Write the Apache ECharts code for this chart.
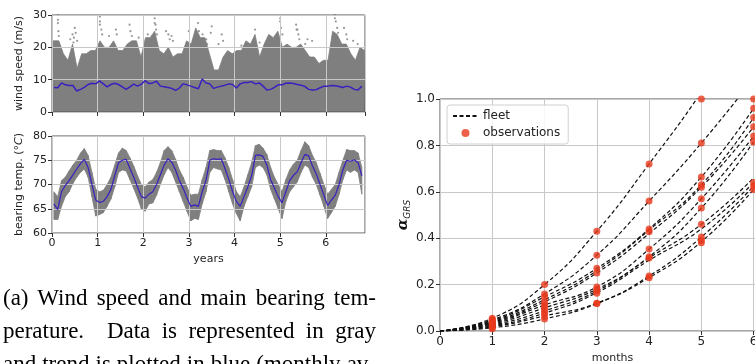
<!DOCTYPE html>
<html>
<head>
<meta charset="utf-8">
<script src="https://cdn.jsdelivr.net/npm/echarts@6/dist/echarts.min.js"></script>
<style>
  html, body { margin: 0; padding: 0; background: #fff; }
  #wrap { position: relative; width: 755px; height: 364px; overflow: hidden; }
  #chart { position: absolute; left: 0; top: 0; width: 755px; height: 364px; }
  .cap {
    position: absolute; left: 3px; width: 373px;
    font-family: "Liberation Serif", "Times New Roman", serif;
    font-size: 23px; color: #000; white-space: nowrap;
    text-align: justify; text-align-last: justify; line-height: 24px;
  }
</style>
</head>
<body>
<div id="wrap">
  <div id="chart"></div>
  <div class="cap" style="top:286px">(a) Wind speed and main bearing tem-</div>
  <div class="cap" style="top:319px">perature.&nbsp; Data is represented in gray</div>
  <div class="cap" style="top:352px">and trend is plotted in blue (monthly av-</div>
</div>
<script>
// ---- wind speed (top left) ----
// upper edge of the gray point cloud, one value every 0.1 year (t = 0.05, 0.15, ...)
const windEnvelope = [
  22, 22, 18, 16, 21, 13.5, 18, 18, 19, 19,
  22, 20, 20, 22, 19, 19, 21, 22, 22, 17,
  23, 23, 25, 19, 18, 20, 17, 18, 18, 22,
  21, 26, 23, 23, 18, 13, 13, 17, 19, 18,
  19, 19, 22, 21, 24, 17, 21, 24, 23, 25,
  20, 21, 20, 20, 21, 19, 17, 17, 15, 16,
  16, 25, 24, 21, 21, 18, 16, 20, 19
];
// isolated points above the cloud [year, m/s]
const windOutliers = [
  [0.13, 30], [0.13, 28.5], [0.13, 27.5], [0.14, 25], [0.15, 23.5], [0.4, 22.5],
  [0.45, 24], [0.5, 26], [0.48, 23], [0.52, 24.5], [0.47, 21.5], [0.55, 22],
  [1.05, 29.5], [1.05, 28], [1.05, 27], [1.08, 25.5], [1.1, 24], [1.25, 23.5],
  [1.4, 25.5], [1.42, 24], [1.7, 27], [1.72, 25], [1.75, 23.5], [1.9, 23],
  [2.1, 24], [2.25, 29], [2.25, 27.5], [2.27, 27], [2.28, 25.5], [2.3, 24],
  [2.5, 25], [2.55, 24], [2.58, 22.5], [2.65, 22], [2.62, 23.5], [3.0, 25],
  [3.2, 27.5], [3.22, 25], [3.3, 24], [3.4, 21], [3.38, 22.5], [3.5, 26.5],
  [3.48, 24.5], [3.65, 21], [3.72, 24], [3.75, 22], [4.15, 20.5], [4.45, 25.5],
  [4.55, 21.5], [4.9, 23.5], [5.0, 28], [5.0, 29], [5.02, 26], [5.05, 24],
  [5.35, 27], [5.36, 25.5], [5.38, 25.5], [5.4, 24], [5.42, 22.5], [5.55, 21],
  [5.6, 22.5], [5.7, 22], [6.2, 30], [6.2, 29], [6.22, 28], [6.25, 26],
  [6.27, 24.5], [6.4, 26], [6.45, 24], [6.47, 22.5], [6.6, 22], [6.7, 21]
];
// monthly average wind speed (month index i -> year (i+0.5)/12)
const windTrend = [
  7.6, 7.5, 9.0, 8.4, 8.2, 8.2, 6.5, 7.0, 7.6, 8.5, 8.9, 8.7,
  9.6, 8.7, 7.8, 8.5, 8.9, 8.5, 7.8, 7.0, 7.8, 8.6, 8.0, 8.6,
  9.7, 8.8, 9.0, 9.5, 8.0, 7.8, 7.6, 7.3, 6.7, 7.4, 8.7, 8.4,
  8.0, 7.6, 7.2, 10.2, 9.0, 8.7, 7.3, 7.7, 8.0, 8.3, 8.7, 8.5,
  7.4, 8.7, 9.1, 9.1, 9.4, 8.7, 9.0, 8.0, 6.8, 7.0, 7.6, 8.4,
  8.4, 8.9, 9.0, 8.8, 8.5, 8.3, 7.9, 7.0, 6.8, 6.9, 7.5, 8.0,
  8.0, 8.2, 8.1, 7.9, 7.6, 8.0, 7.7, 7.0, 6.8, 8.0
];

// ---- bearing temperature (bottom left), monthly ----
const tempTrend = [
  66.0, 64.8, 68.5, 69.8, 70.8, 72.0, 73.2, 74.3, 75.2, 73.5, 70.0, 66.8,
  66.3, 66.5, 67.5, 69.0, 71.8, 74.5, 75.0, 75.2, 73.3, 71.5, 69.5, 67.5,
  67.2, 68.0, 68.5, 70.0, 72.0, 74.0, 75.3, 74.6, 73.0, 70.8, 69.2, 67.2,
  65.5, 65.8, 65.5, 68.5, 70.8, 75.0, 75.3, 75.2, 75.3, 73.3, 71.0, 68.5,
  66.5, 65.5, 67.5, 69.5, 71.8, 76.0, 76.1, 75.8, 74.0, 71.0, 69.3, 67.5,
  66.2, 68.5, 70.8, 71.9, 72.6, 74.5, 76.2, 75.9, 73.8, 72.2, 70.0, 67.8,
  65.7, 66.8, 67.8, 70.0, 73.0, 75.0, 74.8, 75.1, 74.5, 71.8
];
const tempUpper = [
  68.5, 67.5, 70.8, 71.5, 72.8, 74.0, 75.0, 76.5, 77.4, 76.0, 72.5, 69.0,
  68.5, 68.8, 70.0, 71.5, 74.0, 76.5, 77.5, 77.0, 75.5, 73.8, 71.8, 70.0,
  69.5, 70.5, 71.0, 72.5, 74.5, 77.0, 77.8, 77.0, 75.2, 73.0, 71.5, 69.5,
  67.8, 68.0, 68.0, 71.0, 73.5, 77.0, 77.2, 77.0, 77.0, 75.5, 73.5, 71.0,
  68.5, 67.5, 69.5, 72.0, 74.5, 78.0, 78.3, 77.5, 76.2, 73.5, 71.5, 70.0,
  68.5, 71.0, 73.0, 74.2, 75.0, 77.0, 78.8, 78.0, 76.0, 74.5, 72.3, 70.0,
  68.0, 69.0, 70.0, 72.5, 75.0, 77.2, 77.0, 77.0, 76.5, 73.5
];
const tempLower = [
  62.8, 62.8, 65.5, 67.5, 68.5, 70.2, 71.5, 72.5, 73.2, 71.5, 67.5, 63.5,
  63.8, 64.2, 65.5, 67.0, 69.5, 72.5, 73.0, 72.8, 71.0, 69.2, 67.2, 65.0,
  64.5, 66.0, 66.2, 67.8, 70.0, 72.0, 73.5, 72.5, 70.5, 68.5, 66.5, 64.5,
  62.5, 63.0, 62.8, 66.0, 68.5, 72.5, 73.5, 73.2, 73.0, 71.0, 68.5, 66.0,
  64.0, 62.5, 65.5, 67.5, 69.5, 73.5, 74.0, 73.5, 72.0, 69.0, 67.0, 65.0,
  63.0, 66.5, 68.5, 69.5, 70.5, 72.5, 74.0, 73.5, 71.5, 70.0, 67.8, 65.5,
  63.0, 64.2, 65.5, 68.0, 71.0, 73.0, 72.5, 73.0, 72.5, 68.0
];

// ---- a_GRS (right) ----
const months = [0, 1, 2, 3, 4, 5, 6];
const fleetCurves = [
  [0, 0.055, 0.200, 0.430, 0.720, 1.03, 1.38],
  [0, 0.048, 0.160, 0.327, 0.560, 0.810, 1.09],
  [0, 0.044, 0.147, 0.270, 0.440, 0.664, 0.96],
  [0, 0.040, 0.135, 0.260, 0.435, 0.630, 0.92],
  [0, 0.037, 0.126, 0.250, 0.420, 0.620, 0.88],
  [0, 0.033, 0.112, 0.190, 0.353, 0.570, 0.84],
  [0, 0.030, 0.100, 0.180, 0.320, 0.530, 0.815],
  [0, 0.026, 0.087, 0.172, 0.315, 0.460, 0.66],
  [0, 0.022, 0.077, 0.165, 0.305, 0.440, 0.64],
  [0, 0.018, 0.065, 0.120, 0.237, 0.405, 0.625],
  [0, 0.014, 0.052, 0.118, 0.230, 0.385, 0.61]
];
const obsMonth1 = [0.055, 0.05, 0.045, 0.04, 0.035, 0.03, 0.025, 0.02, 0.015, 0.01];
const obsMonth2 = [0.2, 0.16, 0.147, 0.126, 0.112, 0.1, 0.087, 0.077, 0.065, 0.052];
const obsMonth3 = [0.43, 0.327, 0.27, 0.25, 0.19, 0.18, 0.172, 0.163, 0.12, 0.118];
const obsMonth4 = [0.72, 0.56, 0.44, 0.428, 0.353, 0.32, 0.315, 0.237, 0.23];
const obsMonth5 = [1.0, 0.81, 0.664, 0.63, 0.62, 0.57, 0.53, 0.46, 0.405, 0.39, 0.38];
const obsMonth6 = [1.0, 0.96, 0.92, 0.88, 0.84, 0.815, 0.64, 0.625, 0.61];

const YEAR_MAX = 6.86;
const FONT = 'DejaVu Sans';
const GRID_LINE = '#c8c8c8';
const FRAME = '#555';
const GRAY = '#7f7f7f';
const BLUE = '#3b1fc0';
const RED = '#e8391d';

const monthToYear = (i) => (i + 0.5) / 12;

const windArea = [[0, windEnvelope[0]]]
  .concat(windEnvelope.map((v, i) => [0.05 + i * 0.1, v]))
  .concat([[YEAR_MAX, windEnvelope[windEnvelope.length - 1]]]);

// one polygon piece of the gray temperature band per pair of neighbouring months
const tempBand = [];
for (let i = 0; i < tempTrend.length - 1; i++) {
  tempBand.push([monthToYear(i), tempLower[i], tempUpper[i],
    monthToYear(i + 1), tempLower[i + 1], tempUpper[i + 1]]);
}

const obsData = [];
[obsMonth1, obsMonth2, obsMonth3, obsMonth4, obsMonth5, obsMonth6].forEach((arr, k) => {
  arr.forEach((v) => obsData.push([k + 1, v]));
});

const axisLabel = { color: '#222', fontFamily: FONT, fontSize: 11, showMaxLabel: false };
const tick = { show: true, length: 4, lineStyle: { color: '#333' } };
const split = { show: true, lineStyle: { color: GRID_LINE, width: 1 } };
const gridBase = {
  show: true, borderColor: FRAME, borderWidth: 1, backgroundColor: 'transparent',
  containLabel: false, outerBoundsMode: 'none'
};

const chart = echarts.init(document.getElementById('chart'), null, { renderer: 'canvas' });

const option = {
  animation: false,
  backgroundColor: '#fff',
  grid: [
    Object.assign({ left: 52, top: 15, width: 313, height: 97, z: 3 }, gridBase),
    Object.assign({ left: 52, top: 136, width: 313, height: 97, z: 3 }, gridBase),
    Object.assign({ left: 440, top: 99, width: 345, height: 232 }, gridBase)
  ],
  xAxis: [
    { gridIndex: 0, type: 'value', min: 0, max: YEAR_MAX, interval: 1, z: 3,
      axisLine: { show: false }, axisTick: tick, axisLabel: { show: false }, splitLine: split },
    { gridIndex: 1, type: 'value', min: 0, max: YEAR_MAX, interval: 1, z: 3,
      name: 'years', nameLocation: 'middle', nameGap: 21,
      nameTextStyle: { color: '#222', fontFamily: FONT, fontSize: 11 },
      axisLine: { show: false }, axisTick: tick, axisLabel: Object.assign({ margin: 5 }, axisLabel),
      splitLine: split },
    { gridIndex: 2, type: 'value', min: 0, max: 6.6, interval: 1,
      name: 'months', nameLocation: 'middle', nameGap: 21,
      nameTextStyle: { color: '#222', fontFamily: FONT, fontSize: 11 },
      axisLine: { show: false }, axisTick: tick,
      axisLabel: Object.assign({ margin: 5 }, axisLabel, { fontSize: 12 }), splitLine: split }
  ],
  yAxis: [
    { gridIndex: 0, type: 'value', min: 0, max: 30, interval: 10, z: 3,
      name: 'wind speed (m/s)', nameLocation: 'middle', nameGap: 27, nameRotate: 90,
      nameTextStyle: { color: '#222', fontFamily: FONT, fontSize: 11 },
      axisLine: { show: false }, axisTick: tick,
      axisLabel: Object.assign({ margin: 5 }, axisLabel, { showMaxLabel: true }),
      splitLine: split },
    { gridIndex: 1, type: 'value', min: 60, max: 80, interval: 5, z: 3,
      name: 'bearing temp. ({i|°C})', nameLocation: 'middle', nameGap: 27, nameRotate: 90,
      nameTextStyle: { color: '#222', fontFamily: FONT, fontSize: 11,
        rich: { i: { fontFamily: FONT, fontSize: 11, fontStyle: 'italic', color: '#222' } } },
      axisLine: { show: false }, axisTick: tick,
      axisLabel: Object.assign({ margin: 5 }, axisLabel, { showMaxLabel: true }),
      splitLine: split },
    { gridIndex: 2, type: 'value', min: 0, max: 1, interval: 0.2,
      name: '{a|α}{b|GRS}', nameLocation: 'middle', nameGap: 26, nameRotate: 90,
      nameTextStyle: {
        rich: {
          a: { fontFamily: 'DejaVu Serif', fontSize: 15, fontWeight: 'bold', fontStyle: 'italic', color: '#111', lineHeight: 18 },
          b: { fontFamily: FONT, fontSize: 9, fontStyle: 'italic', color: '#222', lineHeight: 10, verticalAlign: 'bottom' }
        }
      },
      axisLine: { show: false }, axisTick: tick,
      axisLabel: Object.assign({ margin: 5 }, axisLabel, { fontSize: 12, showMaxLabel: true, formatter: (v) => v.toFixed(1) }),
      splitLine: split }
  ],
  legend: {
    left: 447, top: 105, orient: 'vertical',
    padding: [5, 8, 5, 5], itemGap: 5, itemWidth: 25, itemHeight: 8,
    backgroundColor: 'rgba(255,255,255,0.85)', borderColor: '#d0d0d0', borderWidth: 1, borderRadius: 3,
    textStyle: { color: '#222', fontFamily: FONT, fontSize: 12 },
    data: [
      { name: 'fleet', itemStyle: { opacity: 0 } },
      { name: 'observations', icon: 'circle' }
    ]
  },
  series: [
    // wind speed cloud (kept under the grid lines)
    { type: 'line', xAxisIndex: 0, yAxisIndex: 0, data: windArea,
      symbol: 'none', z: -1, lineStyle: { width: 0.8, color: GRAY }, areaStyle: { color: GRAY, opacity: 1 } },
    { type: 'scatter', xAxisIndex: 0, yAxisIndex: 0, data: windOutliers, z: -1,
      symbolSize: 2.2, itemStyle: { color: GRAY } },
    { type: 'line', xAxisIndex: 0, yAxisIndex: 0, z: 5, symbol: 'none',
      data: windTrend.map((v, i) => [monthToYear(i), v]),
      lineStyle: { color: BLUE, width: 1.5 } },
    // bearing temperature band
    { type: 'custom', xAxisIndex: 1, yAxisIndex: 1, z: -1, data: tempBand,
      renderItem: (params, api) => {
        const a = api.coord([api.value(0), api.value(1)]);
        const b = api.coord([api.value(3), api.value(4)]);
        const c = api.coord([api.value(3), api.value(5)]);
        const d = api.coord([api.value(0), api.value(2)]);
        return {
          type: 'polygon',
          shape: { points: [a, b, c, d] },
          style: { fill: GRAY, stroke: GRAY, lineWidth: 0.8 }
        };
      } },
    { type: 'line', xAxisIndex: 1, yAxisIndex: 1, z: 5, symbol: 'none',
      data: tempTrend.map((v, i) => [monthToYear(i), v]),
      lineStyle: { color: BLUE, width: 1.2 } }
  ].concat(fleetCurves.map((c) => ({
    name: 'fleet', type: 'line', xAxisIndex: 2, yAxisIndex: 2, symbol: 'none',
    smooth: 0.5,
    data: c.map((v, i) => [months[i], v]),
    lineStyle: { color: '#111', width: 1.2, type: [4, 2.5] },
    itemStyle: { color: '#111' }
  }))).concat([
    { name: 'observations', type: 'scatter', xAxisIndex: 2, yAxisIndex: 2, data: obsData,
      symbolSize: 7, clip: false, z: 4, itemStyle: { color: RED } }
  ])
};

chart.setOption(option);
</script>
</body>
</html>
